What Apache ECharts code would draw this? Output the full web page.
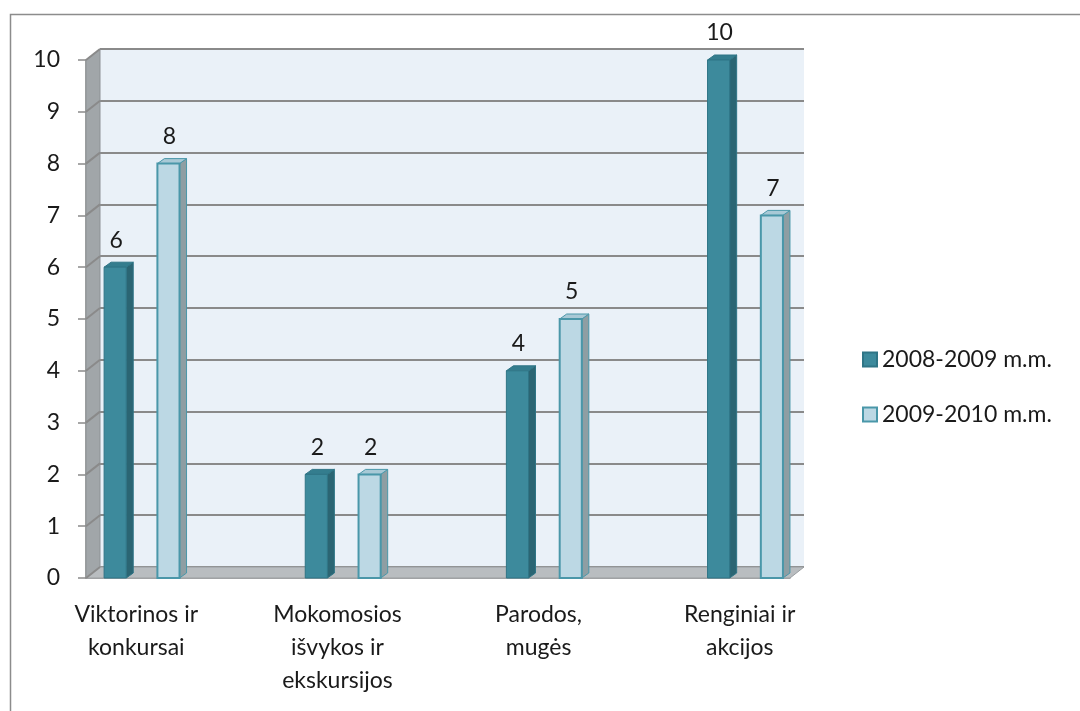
<!DOCTYPE html>
<html lang="lt">
<head>
  <meta charset="UTF-8">
  <title>Renginiai</title>
  <script src="https://cdn.jsdelivr.net/npm/echarts@6/dist/echarts.min.js"></script>
  <style>
    html, body { margin: 0; padding: 0; background: #fff; }
  </style>
</head>
<body>
<div id="chart" style="width: 1080px;height: 711px"></div>
<script>
  var categories = ['Viktorinos ir\nkonkursai', 'Mokomosios\nišvykos ir\nekskursijos', 'Parodos,\nmugės', 'Renginiai ir\nakcijos'];
  var seriesNames = ['2008-2009 m.m.', '2009-2010 m.m.'];
  var values0809 = [6, 2, 4, 10];
  var values0910 = [8, 2, 5, 7];
  var yTicks = [0, 1, 2, 3, 4, 5, 6, 7, 8, 9, 10];

  // excel leaves an empty slot between the groups
  var axisData = [];
  for (var i = 0; i < categories.length; i++) {
    if (i > 0) axisData.push('');
    axisData.push(categories[i]);
  }
  function toSlots(arr) {
    return arr.map(function (v, i) { return [i * 2, v]; });
  }

  var FONT = 'Lato';
  var FS = 23;
  var D = 14, DY = 11;      // depth of the walls
  var bd = 7, bdy = 5;      // depth of a bar
  var barOffset = [-0.21, 0.32];
  var barWidth = 0.22;
  var faces = [
    { front: '#3d8a9c', side: '#2b6573', top: '#347d8e', border: '#2f7586' },
    { front: '#bcd8e4', side: '#8e9ea3', top: '#a8c9d6', border: '#4a97a9' }
  ];

  var demo1 = echarts.init(document.getElementById('chart'));

  function renderBar(params, api) {
    var s = params.seriesIndex - 1;
    var f = faces[s];
    var band = api.size([1, 0])[0];
    var top = api.coord([api.value(0), api.value(1)]);
    var base = api.coord([api.value(0), 0]);
    var w = band * barWidth;
    var cx = top[0] + band * barOffset[s];
    var x0 = cx - w / 2, x1 = cx + w / 2, yT = top[1], yB = base[1];
    return {
      type: 'group',
      children: [
        { type: 'polygon', shape: { points: [[x1, yT], [x1 + bd, yT - bdy], [x1 + bd, yB - bdy], [x1, yB]] },
          style: { fill: f.side, stroke: f.border, lineWidth: 1 } },
        { type: 'polygon', shape: { points: [[x0, yT], [x0 + bd, yT - bdy], [x1 + bd, yT - bdy], [x1, yT]] },
          style: { fill: f.top, stroke: f.border, lineWidth: 1 } },
        { type: 'rect', shape: { x: x0, y: yT, width: w, height: yB - yT },
          style: { fill: f.front, stroke: f.border, lineWidth: s === 1 ? 2 : 1 } },
        { type: 'text', x: cx + 1, y: yT - 27,
          style: { text: String(api.value(1)), fill: '#1a1a1a', font: FS + 'px ' + FONT, align: 'center', verticalAlign: 'middle' } }
      ]
    };
  }

  function renderWalls(params, api) {
    var cs = params.coordSys;
    var yB = cs.y + cs.height;
    var children = [
      { type: 'polygon', shape: { points: [[cs.x, yB], [cs.x, cs.y], [cs.x + D, cs.y - DY], [cs.x + D, yB - DY]] },
        style: { fill: '#a1a6a9', stroke: '#8d9295', lineWidth: 1 } },
      { type: 'polygon', shape: { points: [[cs.x, yB], [cs.x + D, yB - DY], [cs.x + cs.width + D, yB - DY], [cs.x + cs.width, yB]] },
        style: { fill: '#b9bdc0', stroke: '#9a9ea1', lineWidth: 1 } }
    ];
    yTicks.forEach(function (v) {
      var y = api.coord([0, v])[1];
      children.push({ type: 'line', shape: { x1: cs.x, y1: y, x2: cs.x + D, y2: y - DY },
        style: { stroke: '#8a8a8a', lineWidth: 2 } });
    });
    return { type: 'group', children: children };
  }

  option = {
    backgroundColor: '#fff',
    animation: false,
    textStyle: { fontFamily: FONT },
    graphic: [{
      type: 'rect', left: 8, top: 12, silent: true, z: -10,
      shape: { width: 1100, height: 720 },
      style: { fill: 'none', stroke: '#8c8c8c', lineWidth: 1.5 }
    }],
    legend: {
      orient: 'vertical',
      left: 857,
      top: 343,
      itemWidth: 14,
      itemHeight: 14,
      itemGap: 32,
      icon: 'rect',
      data: seriesNames,
      textStyle: { fontSize: FS, color: '#1a1a1a', fontFamily: FONT }
    },
    grid: [
      { left: 86, right: 290, top: 60, bottom: 133 },
      { left: 100, right: 276, top: 49, bottom: 144, show: true, backgroundColor: '#eaf1f8', borderWidth: 0, z: -1 }
    ],
    xAxis: [
      {
        type: 'category', gridIndex: 0, data: axisData,
        axisLine: { lineStyle: { color: '#8a8a8a', width: 1.5 } },
        axisTick: { interval: 0, length: 8, lineStyle: { color: '#8a8a8a', width: 1.5 } },
        axisLabel: { interval: 0, fontSize: FS, lineHeight: 33, color: '#1a1a1a', margin: 20, fontFamily: FONT }
      },
      { type: 'category', gridIndex: 1, data: axisData, show: false }
    ],
    yAxis: [
      {
        type: 'value', gridIndex: 0, min: 0, max: 10, interval: 1,
        axisLine: { show: true, lineStyle: { color: '#8a8a8a', width: 1.5 } },
        axisTick: { show: true, length: 8, lineStyle: { color: '#8a8a8a', width: 1.5 } },
        axisLabel: { fontSize: FS, color: '#1a1a1a', margin: 26, fontFamily: FONT },
        splitLine: { show: false }
      },
      {
        type: 'value', gridIndex: 1, min: 0, max: 10, interval: 1,
        axisLine: { show: false }, axisTick: { show: false }, axisLabel: { show: false },
        splitLine: { show: true, lineStyle: { color: '#8a8a8a', width: 2 } }
      }
    ],
    series: [
      { // walls and floor
        type: 'custom', xAxisIndex: 0, yAxisIndex: 0, silent: true, z: 1,
        renderItem: renderWalls,
        data: [[0, 0]]
      },
      {
        name: seriesNames[0], type: 'custom', xAxisIndex: 0, yAxisIndex: 0, z: 3,
        itemStyle: { color: faces[0].front, borderColor: faces[0].border, borderWidth: 1 },
        renderItem: renderBar,
        data: toSlots(values0809)
      },
      {
        name: seriesNames[1], type: 'custom', xAxisIndex: 0, yAxisIndex: 0, z: 3,
        itemStyle: { color: faces[1].front, borderColor: faces[1].border, borderWidth: 1.5 },
        renderItem: renderBar,
        data: toSlots(values0910)
      }
    ]
  };

  demo1.setOption(option);
</script>
</body>
</html>
